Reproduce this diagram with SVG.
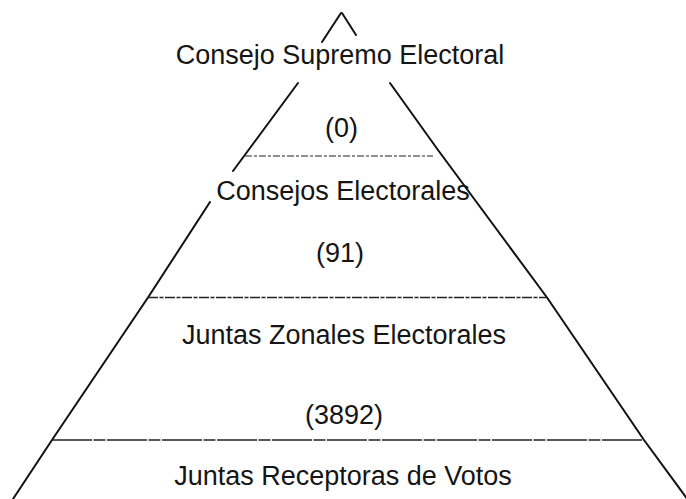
<svg xmlns="http://www.w3.org/2000/svg" width="686" height="499" viewBox="0 0 686 499">
  <style>
    .side { stroke: #111; stroke-width: 2; fill: none; stroke-linecap: round; stroke-linejoin: round; }
    .sep { stroke: #222; fill: none; }
    .lbl { font-family: "Liberation Sans", Arial, sans-serif; font-size: 27px; fill: #151515; text-anchor: middle; }
  </style>
  <rect width="686" height="499" fill="#ffffff"/>
  <g id="pyramid-sides">
    <line class="side" x1="341" y1="13" x2="322" y2="42"/>
    <line class="side" x1="342" y1="13" x2="356" y2="35"/>
    <line class="side" x1="298" y1="83" x2="233" y2="171"/>
    <polyline class="side" points="210,202 148,297.5 52,440 13,499"/>
    <polyline class="side" points="390,83 438,150 547,297.5 644,440 688,500"/>
  </g>
  <g id="separators">
    <line class="sep" x1="245" y1="156" x2="433" y2="156" stroke-width="1.2" stroke-dasharray="7 2 3 2" stroke="#444"/>
    <line class="sep" x1="148" y1="297.5" x2="547" y2="297.5" stroke-width="1.4" stroke-dasharray="10 1.5 4 1.5"/>
    <line class="sep" x1="52" y1="440" x2="644" y2="440" stroke-width="1.6" stroke-dasharray="40 1.5 12 1.5"/>
  </g>
  <g id="tier-consejo-supremo">
    <text class="lbl" x="340" y="64">Consejo Supremo Electoral</text>
    <text class="lbl" x="341.5" y="137">(0)</text>
  </g>
  <g id="tier-consejos-electorales">
    <text class="lbl" x="343" y="200">Consejos Electorales</text>
    <text class="lbl" x="340" y="262">(91)</text>
  </g>
  <g id="tier-juntas-zonales">
    <text class="lbl" x="344" y="344">Juntas Zonales Electorales</text>
    <text class="lbl" x="344" y="424">(3892)</text>
  </g>
  <g id="tier-juntas-receptoras">
    <text class="lbl" x="343" y="485">Juntas Receptoras de Votos</text>
  </g>
</svg>
